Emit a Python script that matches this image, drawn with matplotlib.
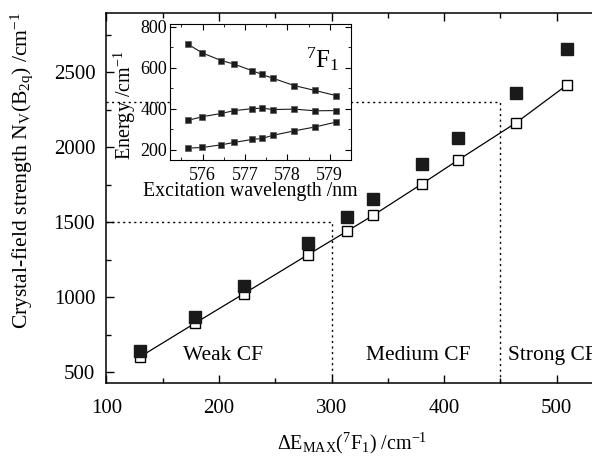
import numpy as np
import matplotlib
matplotlib.use("Agg")
import matplotlib.pyplot as plt
from matplotlib.ticker import MultipleLocator

plt.rcParams['font.family'] = ['Liberation Serif', 'DejaVu Serif']
plt.rcParams['mathtext.fontset'] = 'stix'

# main plot data
dE = [130, 179, 222, 279, 314, 337, 380, 412, 464, 509]
nv_open = [604, 829, 1024, 1284, 1442, 1547, 1755, 1913, 2164, 2415]
dE_filled = [130, 179, 222, 279, 314, 337, 380, 412, 464, 509]
nv_filled = [642, 871, 1075, 1360, 1537, 1653, 1887, 2062, 2360, 2657]

# inset data
wl = [575.65, 575.99, 576.44, 576.75, 577.16, 577.40, 577.65, 578.16, 578.65, 579.15]
e_upper = [715, 672, 635, 617, 586, 567, 549, 513, 489, 464]
e_mid = [343, 361, 377, 391, 400, 403, 396, 398, 390, 391]
e_low = [208, 211, 224, 236, 250, 255, 270, 292, 311, 335]

fig = plt.figure(figsize=(5.92, 4.59), dpi=100)
ax = fig.add_axes([0.1797, 0.1649, 0.8203, 0.8074])

ax.plot(dE, nv_open, '-', color='k', lw=0.9, zorder=2)
ax.plot(dE, nv_open, 's', ms=7.8, mfc='white', mec='k', mew=1.0, zorder=3)
ax.plot(dE_filled, nv_filled, 's', ms=8, mfc='#1a1a1a', mec='#1a1a1a', zorder=3)

dot = (0, (1.5, 2.5))
ax.plot([100, 300, 300], [1500, 1500, 427], color='k', lw=1.0, ls=dot, zorder=1)
ax.plot([100, 450, 450], [2300, 2300, 427], color='k', lw=1.0, ls=dot, zorder=1)

ax.text(168, 615, 'Weak CF', fontsize=15.5, va='center')
ax.text(331, 615, 'Medium CF', fontsize=15.5, va='center')
ax.text(456.5, 615, 'Strong CF', fontsize=15.5, va='center')

ax.set_xlim(100, 531.3)
ax.set_ylim(427, 2897)
ax.xaxis.set_major_locator(MultipleLocator(100))
ax.xaxis.set_minor_locator(MultipleLocator(50))
ax.yaxis.set_major_locator(MultipleLocator(500))
ax.yaxis.set_minor_locator(MultipleLocator(250))
ax.tick_params(which='both', direction='in', top=True, right=False, labelsize=15)
ax.tick_params(which='major', length=6, width=1)
ax.tick_params(which='minor', length=3.5, width=1)
ax.tick_params(axis='x', pad=11)
ax.tick_params(axis='y', pad=8)
ax.spines['right'].set_visible(False)
for s in ['left', 'bottom', 'top']:
    ax.spines[s].set_linewidth(1.1)

ax.set_xlabel(r'$\mathregular{\Delta E_{MAX}(^7F_1)\ /cm^{-1}}$', fontsize=14.5)
ax.xaxis.set_label_coords(0.506, -0.128)
ax.set_ylabel(r'Crystal-field strength $\mathregular{N_V(B_{2q})}$ /cm$\mathregular{^{-1}}$',
              fontsize=15.6)
ax.yaxis.set_label_coords(-0.146, 0.575)

# inset
ins = fig.add_axes([0.2872, 0.6514, 0.3057, 0.2963])
ins.set_facecolor('white')
for e in (e_upper, e_mid, e_low):
    ins.plot(wl, e, '-s', color='#1a1a1a', lw=0.8, ms=4.8, mec='#555555', mew=0.5)
ins.set_xlim(575.23, 579.5)
ins.set_ylim(150, 813)
ins.xaxis.set_major_locator(MultipleLocator(1))
ins.xaxis.set_minor_locator(MultipleLocator(0.5))
ins.yaxis.set_major_locator(MultipleLocator(200))
ins.yaxis.set_minor_locator(MultipleLocator(100))
ins.tick_params(which='both', direction='in', top=True, right=True, labelsize=13)
ins.tick_params(which='major', length=4)
ins.tick_params(which='minor', length=2.5)
ins.tick_params(axis='y', pad=2)
ins.tick_params(axis='x', pad=5)
ins.set_xlabel('Excitation wavelength /nm', fontsize=14.3)
ins.xaxis.set_label_coords(0.445, -0.165)
ins.set_ylabel(r'Energy /cm$\mathregular{^{-1}}$', fontsize=14.5)
ins.yaxis.set_label_coords(-0.177, 0.404)
ins.text(578.45, 640, r'$\mathregular{^7F_1}$', fontsize=18, ha='left', va='center')

fig.savefig('out.png', dpi=100)
